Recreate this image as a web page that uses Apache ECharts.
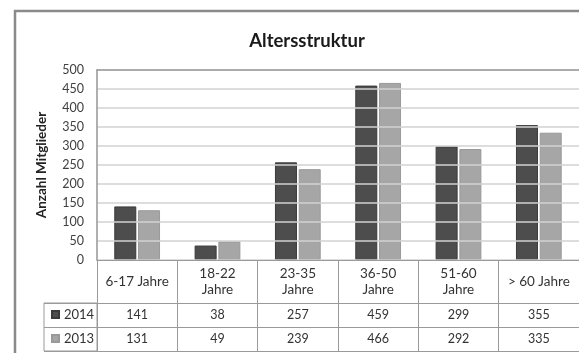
<!DOCTYPE html>
<html>
<head>
<meta charset="utf-8">
<script src="https://cdn.jsdelivr.net/npm/echarts@6/dist/echarts.min.js"></script>
<style>
  html, body { margin: 0; padding: 0; background: #ffffff; }
  #chart { width: 579px; height: 353px; }
</style>
</head>
<body>
<div id="chart"></div>
<script>
// Altersgruppen und Mitgliederzahlen
const categories = ['6-17 Jahre', '18-22\nJahre', '23-35\nJahre', '36-50\nJahre', '51-60\nJahre', '> 60 Jahre'];
const values2014 = [141, 38, 257, 459, 299, 355];
const values2013 = [131, 49, 239, 466, 292, 335];
const seriesNames = ['2014', '2013'];
const yMin = 0, yMax = 500, yStep = 50;

const FONT = 'Lato, "Liberation Sans", sans-serif';
const LINE = '#9a9a9a';
const TEXT = '#333333';

const chart = echarts.init(document.getElementById('chart'), null, { renderer: 'canvas' });

// one row of the data table below the plot: a bottom axis whose line is the row's lower border
const tableAxis = (offset, labels, showLabels) => ({
  type: 'category',
  gridIndex: 0,
  position: 'bottom',
  offset: offset,
  data: categories,
  z: 6,
  axisLine: { show: true, lineStyle: { color: LINE, width: 1 } },
  axisTick: { show: false },
  axisLabel: {
    show: showLabels,
    interval: 0,
    margin: 12,
    verticalAlign: 'middle',
    fontFamily: FONT,
    fontSize: 12.5,
    color: TEXT,
    formatter: (v, i) => labels ? String(labels[i]) : ''
  },
  splitLine: { show: false }
});

chart.setOption({
  backgroundColor: '#ffffff',
  animation: false,
  title: {
    text: 'Altersstruktur',
    left: 307,
    top: 41,
    padding: 0,
    textAlign: 'center',
    textVerticalAlign: 'middle',
    textStyle: { fontFamily: FONT, fontSize: 18.5, fontWeight: 'bold', color: '#1a1a1a' }
  },
  legend: {
    orient: 'vertical',
    left: 51,
    top: 308,
    padding: 0,
    itemWidth: 7,
    itemHeight: 7,
    itemGap: 11,
    icon: 'rect',
    selectedMode: false,
    data: seriesNames,
    textStyle: { fontFamily: FONT, fontSize: 13, color: TEXT }
  },
  graphic: [{
    type: 'rect',
    silent: true,
    shape: { x: 15, y: 11, width: 640, height: 420 },
    style: { fill: 'none', stroke: '#8a8a8a', lineWidth: 2.5 }
  }],
  grid: [
    { left: 97, right: 0, top: 70, bottom: 93, containLabel: false },
    { left: 44, top: 303, width: 53, height: 48, show: true, borderColor: LINE, borderWidth: 1, backgroundColor: 'transparent' }
  ],
  xAxis: [
    {
      type: 'category',
      gridIndex: 0,
      position: 'bottom',
      data: categories,
      z: 6,
      axisLine: { show: true, lineStyle: { color: LINE, width: 1 } },
      axisTick: { show: true, interval: 0, length: 91, lineStyle: { color: LINE, width: 1 } },
      axisLabel: {
        interval: 0,
        margin: 21.5,
        verticalAlign: 'middle',
        lineHeight: 16,
        fontFamily: FONT,
        fontSize: 13.5,
        color: TEXT
      },
      splitLine: { show: false }
    },
    tableAxis(43, values2014, true),
    tableAxis(67, values2013, true),
    tableAxis(91, null, false),
    {
      type: 'category',
      gridIndex: 0,
      position: 'top',
      data: categories,
      z: 6,
      axisLine: { show: true, lineStyle: { color: '#9c9c9c', width: 1.6 } },
      axisTick: { show: false },
      axisLabel: { show: false },
      splitLine: { show: false }
    },
    { type: 'value', gridIndex: 1, show: false }
  ],
  yAxis: [
    {
      type: 'value',
      gridIndex: 0,
      min: yMin,
      max: yMax,
      interval: yStep,
      z: 6,
      name: 'Anzahl Mitglieder',
      nameLocation: 'middle',
      nameGap: 48,
      nameRotate: 90,
      nameTextStyle: { fontFamily: FONT, fontSize: 13.5, fontWeight: 'bold', color: '#222222' },
      axisLine: { show: true, lineStyle: { color: '#9c9c9c', width: 1.6 } },
      axisTick: { show: false },
      axisLabel: { margin: 13, fontFamily: FONT, fontSize: 12.5, color: '#404040' },
      splitLine: { show: true, lineStyle: { color: '#d2d2d2', width: 1.5 } }
    },
    {
      type: 'category',
      gridIndex: 1,
      data: seriesNames.slice().reverse(),
      axisLine: { show: false },
      axisTick: { show: false },
      axisLabel: { show: false },
      splitLine: { show: true, interval: 0, lineStyle: { color: LINE, width: 1 } }
    }
  ],
  series: [
    {
      name: seriesNames[0],
      type: 'bar',
      xAxisIndex: 0,
      yAxisIndex: 0,
      data: values2014,
      barWidth: 22,
      barGap: '8%',
      itemStyle: { color: '#4d4d4d', borderColor: '#3a3a3a', borderWidth: 1 }
    },
    {
      name: seriesNames[1],
      type: 'bar',
      xAxisIndex: 0,
      yAxisIndex: 0,
      data: values2013,
      barWidth: 22,
      barGap: '8%',
      itemStyle: { color: '#a6a6a6', borderColor: '#999999', borderWidth: 1 }
    }
  ]
});
</script>
</body>
</html>
